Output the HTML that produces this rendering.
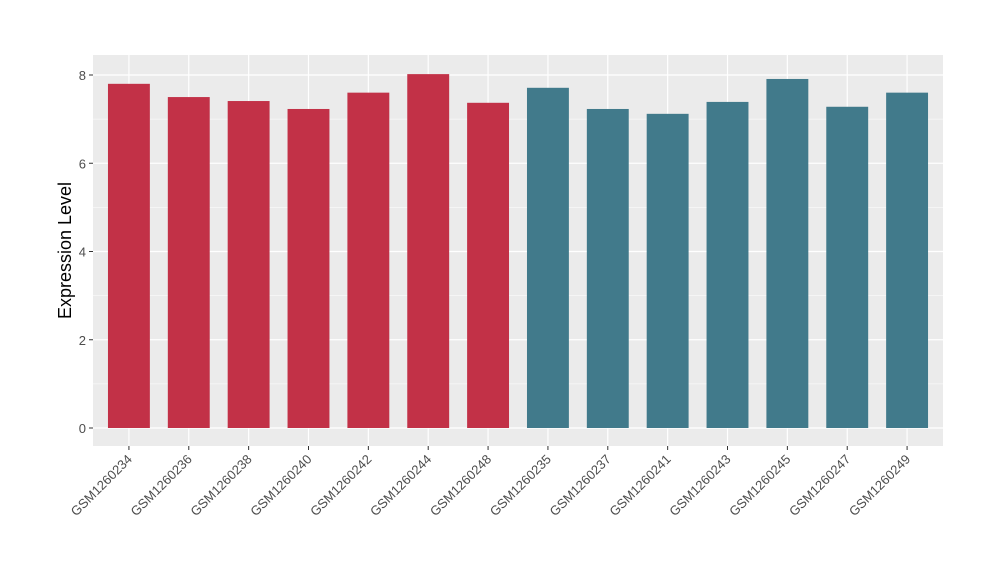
<!DOCTYPE html>
<html><head><meta charset="utf-8"><style>
body{margin:0;background:#fff;font-family:"Liberation Sans",sans-serif;}
</style></head><body>
<svg id="chart" width="1000" height="580" xmlns="http://www.w3.org/2000/svg"></svg>
<script>
const categories=["GSM1260234","GSM1260236","GSM1260238","GSM1260240","GSM1260242","GSM1260244","GSM1260248","GSM1260235","GSM1260237","GSM1260241","GSM1260243","GSM1260245","GSM1260247","GSM1260249"];
const values=[7.80,7.50,7.41,7.23,7.60,8.02,7.37,7.71,7.23,7.12,7.39,7.91,7.28,7.60];
const groups=[0,0,0,0,0,0,0,1,1,1,1,1,1,1];
const yTicks=[0,2,4,6,8];
const colors=["#C23147","#417A8B"];
const NS="http://www.w3.org/2000/svg";
const svg=document.getElementById('chart');
const L=93,R=943,T=55,B=446;
const step=(R-L)/(categories.length+0.2);
const x=i=>L+step*(0.6+i);
const y=v=>428-v*44.125;
function mk(t,a,p){const e=document.createElementNS(NS,t);for(const k in a)e.setAttribute(k,a[k]);(p||svg).appendChild(e);return e;}
const panel=mk('rect',{x:L,y:T,width:R-L,height:B-T,fill:'#EBEBEB'});


for(let i=0;i<yTicks.length-1;i++){const m=(yTicks[i]+yTicks[i+1])/2;
const g=mk('line',{x1:L,x2:R,y1:y(m),y2:y(m),stroke:'#fff','stroke-width':0.6});

}
yTicks.forEach(t=>{
const g=mk('line',{x1:L,x2:R,y1:y(t),y2:y(t),stroke:'#fff','stroke-width':1.2});


const tk=mk('line',{x1:L-4,x2:L,y1:y(t),y2:y(t),stroke:'#333','stroke-width':1});


const tx=mk('text',{x:L-7,y:y(t)+5,'text-anchor':'end','font-size':13,fill:'#4D4D4D'});tx.textContent=t;

});
categories.forEach((c,i)=>{
const g=mk('line',{x1:x(i),x2:x(i),y1:T,y2:B,stroke:'#fff','stroke-width':1.2});

});
const bw=step*0.7;
categories.forEach((c,i)=>{
const r=mk('rect',{x:x(i)-bw/2,y:y(values[i]),width:bw,height:y(0)-y(values[i]),fill:colors[groups[i]]});


const tk=mk('line',{x1:x(i),x2:x(i),y1:B,y2:B+4,stroke:'#333','stroke-width':1});


const tx=mk('text',{x:x(i)+4,y:B+14,'text-anchor':'end','font-size':13,fill:'#4D4D4D',transform:`rotate(-45 ${x(i)+4} ${B+14})`});tx.textContent=c;

});
const yt=mk('text',{x:71,y:(T+B)/2,'text-anchor':'middle','font-size':18,fill:'#000',transform:`rotate(-90 71 ${(T+B)/2})`});yt.textContent='Expression Level';


</script>
</body></html>
